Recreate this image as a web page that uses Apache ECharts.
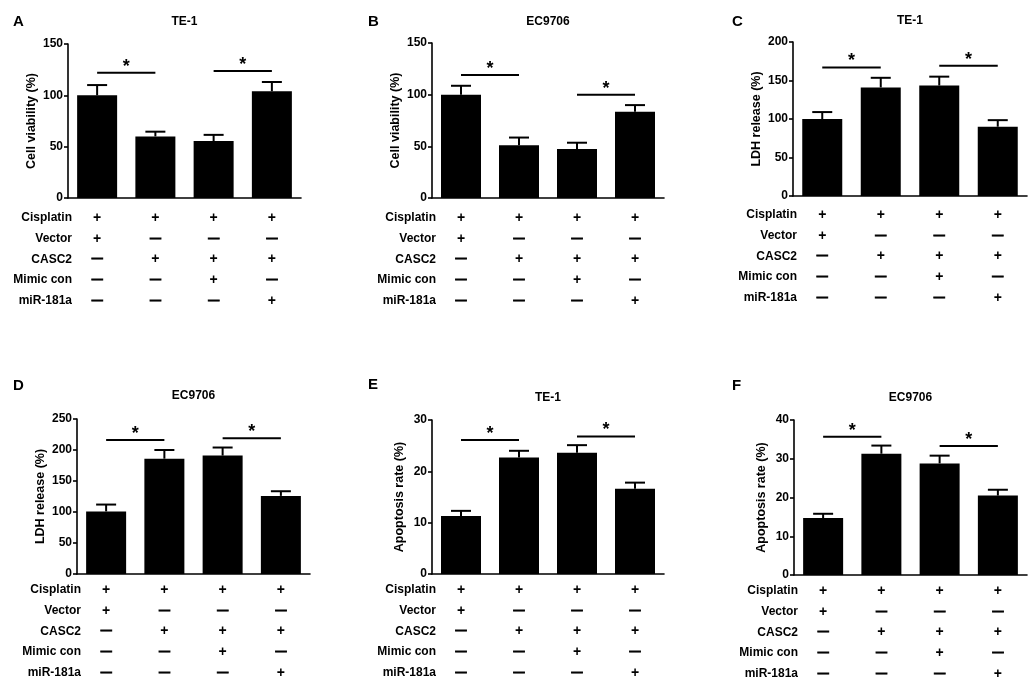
<!DOCTYPE html>
<html>
<head>
<meta charset="utf-8">
<script src="https://cdn.jsdelivr.net/npm/echarts@6/dist/echarts.min.js"></script>
<style>
html,body{margin:0;padding:0;background:#fff;}
#chart{width:1030px;height:685px;}
</style>
</head>
<body>
<div id="chart"></div>
<script>
// ---- data ----
const categories = ['Vector', 'CASC2', 'CASC2 + Mimic con', 'CASC2 + miR-181a'];
const rowNames = ['Cisplatin', 'Vector', 'CASC2', 'Mimic con', 'miR-181a'];
const rowMarks = [
  ['+', '+', '+', '+'],
  ['+', '—', '—', '—'],
  ['—', '+', '+', '+'],
  ['—', '—', '+', '—'],
  ['—', '—', '—', '+']
];

const meanA = [100, 60, 55.5, 104];
const errA  = [10, 4.6, 6, 9];
const sigA  = [[0, 1, 122], [2, 3, 123.7]];

const meanB = [100, 51, 47.5, 83.5];
const errB  = [8.6, 7.5, 6, 6.4];
const sigB  = [[0, 1, 119], [2, 3, 100]];

const meanC = [100, 141, 143.5, 90];
const errC  = [9, 12.5, 11.5, 8.5];
const sigC  = [[0, 1, 167], [2, 3, 169]];

const meanD = [101, 186, 191, 126];
const errD  = [11, 14, 13, 7.5];
const sigD  = [[0, 1, 216], [2, 3, 219]];

const meanE = [11.3, 22.7, 23.6, 16.6];
const errE  = [1.0, 1.3, 1.5, 1.2];
const sigE  = [[0, 1, 26.1], [2, 3, 26.8]];

const meanF = [14.7, 31.3, 28.8, 20.5];
const errF  = [1.1, 2.1, 2.0, 1.5];
const sigF  = [[0, 1, 35.7], [2, 3, 33.3]];

const yTicksA = [0, 150, 50];
const yTicksB = [0, 150, 50];
const yTicksC = [0, 200, 50];
const yTicksD = [0, 250, 50];
const yTicksE = [0, 30, 10];
const yTicksF = [0, 40, 10];

// ---- layout ----
const FONT = 'Liberation Sans, Arial, sans-serif';
const panels = [
  {letter: 'A', title: 'TE-1',   yName: 'Cell viability (%)', ticks: yTicksA, mean: meanA, err: errA, sig: sigA,
   grid: {left: 68, top: 44, width: 233, height: 154}, nameGap: 30, rowTop: 20, titleTop: 16, letterTop: 14},
  {letter: 'B', title: 'EC9706', yName: 'Cell viability (%)', ticks: yTicksB, mean: meanB, err: errB, sig: sigB,
   grid: {left: 432, top: 43, width: 232, height: 155}, nameGap: 30, rowTop: 20, titleTop: 16, letterTop: 14},
  {letter: 'C', title: 'TE-1',   yName: 'LDH release (%)', ticks: yTicksC, mean: meanC, err: errC, sig: sigC,
   grid: {left: 793, top: 42, width: 234, height: 154}, nameGap: 30, rowTop: 19, titleTop: 15, letterTop: 14},
  {letter: 'D', title: 'EC9706', yName: 'LDH release (%)', ticks: yTicksD, mean: meanD, err: errD, sig: sigD,
   grid: {left: 77, top: 419, width: 233, height: 155}, nameGap: 30, rowTop: 16, titleTop: 390, letterTop: 378},
  {letter: 'E', title: 'TE-1',   yName: 'Apoptosis rate (%)', ticks: yTicksE, mean: meanE, err: errE, sig: sigE,
   grid: {left: 432, top: 420, width: 232, height: 154}, nameGap: 26, rowTop: 16, titleTop: 392, letterTop: 377},
  {letter: 'F', title: 'EC9706', yName: 'Apoptosis rate (%)', ticks: yTicksF, mean: meanF, err: errF, sig: sigF,
   grid: {left: 794, top: 420, width: 233, height: 155}, nameGap: 26, rowTop: 16, titleTop: 392, letterTop: 378}
];
const letterLeft = [13, 368, 732, 13, 368, 732];

const option = {
  animation: false,
  backgroundColor: '#fff',
  textStyle: {fontFamily: FONT},
  title: [],
  grid: [],
  xAxis: [],
  yAxis: [],
  series: []
};

panels.forEach((p, k) => {
  option.grid.push(Object.assign({containLabel: false}, p.grid));
  option.title.push({
    text: p.letter, left: letterLeft[k], top: p.letterTop, padding: 0,
    textStyle: {fontSize: 15, fontWeight: 'bold', color: '#000', fontFamily: FONT}
  });
  option.title.push({
    text: p.title, left: p.grid.left + p.grid.width / 2, top: p.titleTop, textAlign: 'center', padding: 0,
    textStyle: {fontSize: 12, fontWeight: 'bold', color: '#000', fontFamily: FONT}
  });
  option.xAxis.push({
    type: 'category', gridIndex: k, data: categories,
    axisLine: {lineStyle: {color: '#000', width: 1.6}},
    axisTick: {alignWithLabel: true, length: 4, lineStyle: {color: '#000', width: 1.6}},
    axisLabel: {show: false},
    splitLine: {show: false}
  });
  option.yAxis.push({
    type: 'value', gridIndex: k, min: p.ticks[0], max: p.ticks[1], interval: p.ticks[2],
    name: p.yName, nameLocation: 'middle', nameGap: p.nameGap,
    nameTextStyle: {fontSize: 12.5, fontWeight: 'bold', color: '#000', fontFamily: FONT},
    axisLine: {show: true, lineStyle: {color: '#000', width: 1.6}},
    axisTick: {show: true, length: 4, lineStyle: {color: '#000', width: 1.6}},
    axisLabel: {fontSize: 12, fontWeight: 'bold', color: '#000', margin: 5, fontFamily: FONT},
    splitLine: {show: false}
  });
  // bars
  option.series.push({
    type: 'bar', xAxisIndex: k, yAxisIndex: k, data: p.mean,
    barWidth: 40, itemStyle: {color: '#000'}, silent: true
  });
  // error bars (upper whisker)
  option.series.push({
    type: 'custom', xAxisIndex: k, yAxisIndex: k, silent: true,
    encode: {x: 0, y: [1, 2]},
    data: p.mean.map((m, i) => [i, m, m + p.err[i]]),
    renderItem: function (params, api) {
      const base = api.coord([api.value(0), api.value(1)]);
      const top = api.coord([api.value(0), api.value(2)]);
      const st = {stroke: '#000', lineWidth: 2};
      return {type: 'group', children: [
        {type: 'line', shape: {x1: base[0], y1: base[1], x2: top[0], y2: top[1]}, style: st},
        {type: 'line', shape: {x1: top[0] - 10, y1: top[1], x2: top[0] + 10, y2: top[1]}, style: st}
      ]};
    }
  });
  // significance lines
  option.series.push({
    type: 'custom', xAxisIndex: k, yAxisIndex: k, silent: true, clip: false,
    encode: {x: [0, 1], y: 2},
    data: p.sig,
    renderItem: function (params, api) {
      const a = api.coord([api.value(0), api.value(2)]);
      const b = api.coord([api.value(1), api.value(2)]);
      return {type: 'group', children: [
        {type: 'line', shape: {x1: a[0], y1: a[1], x2: b[0], y2: b[1]}, style: {stroke: '#000', lineWidth: 2}},
        {type: 'text', style: {text: '*', x: (a[0] + b[0]) / 2, y: a[1] + 3, align: 'center', verticalAlign: 'bottom',
          font: 'bold 18px ' + FONT, fill: '#000'}}
      ]};
    }
  });
  // treatment table under the axis
  option.series.push({
    type: 'custom', xAxisIndex: k, yAxisIndex: k, silent: true, clip: false,
    encode: {x: 0, y: 1},
    data: [[0, 0]],
    renderItem: function (params, api) {
      const cs = params.coordSys;
      const children = [];
      rowNames.forEach((name, r) => {
        const y = cs.y + cs.height + p.rowTop + r * 20.7;
        children.push({type: 'text', style: {text: name, x: cs.x + 4, y: y, align: 'right', verticalAlign: 'middle',
          font: 'bold 12px ' + FONT, fill: '#000'}});
        rowMarks[r].forEach((mk, c) => {
          const x = api.coord([c, 0])[0];
          const isPlus = mk === '+';
          children.push({type: 'text', style: {text: mk, x: x, y: y, align: 'center', verticalAlign: 'middle',
            font: (isPlus ? 'bold 14px ' : 'bold 11px ') + FONT, fill: '#000',
            stroke: isPlus ? null : '#000', lineWidth: isPlus ? 0 : 0.9}});
        });
      });
      return {type: 'group', children: children};
    }
  });
});

const chart = echarts.init(document.getElementById('chart'), null, {renderer: 'canvas'});
chart.setOption(option);
</script>
</body>
</html>
